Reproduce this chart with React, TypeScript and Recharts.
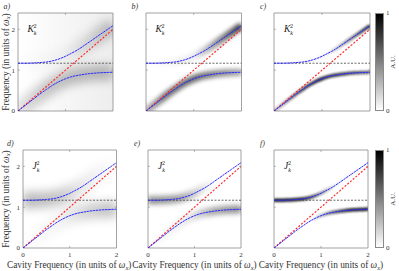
import React from "react";
import { LineChart, Line, XAxis, YAxis, ReferenceLine, ReferenceArea } from "recharts";

// cavity frequency (units of w_x) and the two polariton branches
const cavity = [0, 0.1, 0.2, 0.3, 0.4, 0.5, 0.6, 0.7, 0.8, 0.9, 1.0, 1.1, 1.2, 1.3, 1.4, 1.5, 1.6, 1.7, 1.8, 1.9, 2.0];
const lowerBranch = [0, 0.09, 0.18, 0.27, 0.36, 0.45, 0.53, 0.61, 0.68, 0.74, 0.79, 0.83, 0.86, 0.88, 0.9, 0.915, 0.925, 0.935, 0.94, 0.945, 0.95];
const upperBranch = [1.17, 1.17, 1.17, 1.175, 1.18, 1.19, 1.2, 1.22, 1.25, 1.29, 1.34, 1.4, 1.46, 1.53, 1.61, 1.69, 1.77, 1.85, 1.93, 2.01, 2.09];
const excitonLevel = 1.17;
const xTicks = [0, 1, 2];
const yTicks = [0, 1, 2];
const yMax = 2.4;

const data = cavity.map((c, i) => ({ c, lower: lowerBranch[i], upper: upperBranch[i], photon: c }));

const ML = 14, MR = 3, MT = 3, MB = 12;
const FONT = "'Liberation Serif', 'DejaVu Serif', serif";

type Stops = [number, number][];
type Panel = {
  id: string; letter: string; sym: string;
  x0: number; x1: number; y0: number; y1: number;
  showY: boolean; showX: boolean;
  w: number; blur: number; lower: Stops; upper: Stops; bg?: number;
};

const panels: Panel[] = [
  { id: "a", letter: "a)", sym: "K", x0: 17.5, x1: 112.5, y0: 13, y1: 111, showY: true, showX: false, w: 16, blur: 5,
    lower: [[0, 0.12], [0.3, 0.22], [0.6, 0.25], [1, 0.25]], upper: [[0, 0], [0.5, 0.04], [0.8, 0.16], [1, 0.25]], bg: 0.07 },
  { id: "b", letter: "b)", sym: "K", x0: 145.5, x1: 241, y0: 13, y1: 111, showY: false, showX: false, w: 7, blur: 2.2,
    lower: [[0, 0.3], [0.2, 0.55], [0.5, 0.6], [0.8, 0.45], [1, 0.35]], upper: [[0, 0], [0.5, 0.08], [0.75, 0.45], [1, 0.8]] },
  { id: "c", letter: "c)", sym: "K", x0: 274, x1: 370, y0: 13, y1: 111, showY: false, showX: false, w: 3.5, blur: 0.9,
    lower: [[0, 0.2], [0.25, 0.6], [0.45, 0.85], [0.75, 0.7], [1, 0.55]], upper: [[0, 0], [0.55, 0.05], [0.8, 0.45], [1, 0.8]] },
  { id: "d", letter: "d)", sym: "J", x0: 22.5, x1: 116, y0: 150, y1: 248, showY: true, showX: true, w: 16, blur: 5,
    lower: [[0, 0], [0.4, 0.05], [0.7, 0.18], [1, 0.25]], upper: [[0, 0.28], [0.4, 0.22], [0.6, 0.1], [1, 0]] },
  { id: "e", letter: "e)", sym: "J", x0: 148, x1: 241, y0: 150, y1: 248, showY: false, showX: true, w: 8, blur: 2.4,
    lower: [[0, 0], [0.45, 0.1], [0.7, 0.35], [1, 0.45]], upper: [[0, 0.45], [0.35, 0.38], [0.55, 0.15], [0.7, 0]] },
  { id: "f", letter: "f)", sym: "J", x0: 274, x1: 368, y0: 150, y1: 248, showY: false, showX: true, w: 3.5, blur: 0.8,
    lower: [[0, 0], [0.4, 0], [0.6, 0.5], [0.8, 0.85], [1, 0.9]], upper: [[0, 0.9], [0.3, 0.85], [0.5, 0.4], [0.65, 0.05], [1, 0]] },
];

const tickStyle = { fontSize: 7, fill: "#333", fontFamily: FONT };

function Grad({ id, stops, x1, x2 }: { id: string; stops: Stops; x1: number; x2: number }) {
  return (
    <linearGradient id={id} gradientUnits="userSpaceOnUse" x1={x1} x2={x2} y1={0} y2={0}>
      {stops.map(([o, a], i) => <stop key={i} offset={o} stopColor="#000" stopOpacity={a} />)}
    </linearGradient>
  );
}

function PanelChart({ p }: { p: Panel }) {
  const pw = p.x1 - p.x0, ph = p.y1 - p.y0;
  const W = pw + ML + MR, H = ph + MT + MB;
  return (
    <div style={{ position: "absolute", left: p.x0 - ML, top: p.y0 - MT }}>
      <LineChart width={W} height={H} data={data} margin={{ top: MT, right: MR, bottom: 0, left: 0 }}>
        <defs>
          <Grad id={`lo-${p.id}`} stops={p.lower} x1={ML} x2={ML + pw} />
          <Grad id={`up-${p.id}`} stops={p.upper} x1={ML} x2={ML + pw} />
          <linearGradient id={`bg-${p.id}`} x1="0" x2="1" y1="0" y2="0">
            <stop offset={0} stopColor="#000" stopOpacity={0} />
            <stop offset={1} stopColor="#000" stopOpacity={p.bg ?? 0} />
          </linearGradient>
          <filter id={`blur-${p.id}`} filterUnits="userSpaceOnUse" x={0} y={0} width={W} height={H}>
            <feGaussianBlur stdDeviation={p.blur} />
          </filter>
        </defs>
        <XAxis dataKey="c" type="number" domain={[0, 2]} ticks={xTicks} allowDataOverflow height={MB}
          axisLine={false} tickLine={false} tickSize={3} tickMargin={1} tick={p.showX ? tickStyle : false} />
        <YAxis type="number" domain={[0, yMax]} ticks={yTicks} allowDataOverflow width={ML}
          axisLine={false} tickLine={false} tickSize={2} tickMargin={1} tick={p.showY ? tickStyle : false} />
        {p.bg ? <ReferenceArea x1={0} x2={2} y1={0} y2={yMax} fill={`url(#bg-${p.id})`} fillOpacity={1} stroke="none" /> : null}
        <Line dataKey="lower" type="monotone" stroke={`url(#lo-${p.id})`} strokeWidth={p.w} dot={false}
          filter={`url(#blur-${p.id})`} isAnimationActive={false} />
        <Line dataKey="upper" type="monotone" stroke={`url(#up-${p.id})`} strokeWidth={p.w} dot={false}
          filter={`url(#blur-${p.id})`} isAnimationActive={false} />
        <ReferenceLine y={excitonLevel} stroke="#444" strokeWidth={0.8} strokeDasharray="2 1.5" />
        <Line dataKey="photon" type="linear" stroke="#ff2a2a" strokeWidth={1.2} strokeDasharray="2 1.6" dot={false} isAnimationActive={false} />
        <Line dataKey="lower" type="monotone" stroke="#2b2bff" strokeWidth={1} strokeDasharray="2.5 0.6" dot={false} isAnimationActive={false} />
        <Line dataKey="upper" type="monotone" stroke="#2b2bff" strokeWidth={1} strokeDasharray="2.5 0.6" dot={false} isAnimationActive={false} />
        {xTicks.slice(1, 2).map((t) => (
          <ReferenceLine key={`xb${t}`} segment={[{ x: t, y: 0 }, { x: t, y: 0.05 }]} stroke="#888" strokeWidth={0.6} />
        ))}
        {xTicks.slice(1, 2).map((t) => (
          <ReferenceLine key={`xt${t}`} segment={[{ x: t, y: yMax }, { x: t, y: yMax - 0.05 }]} stroke="#888" strokeWidth={0.6} />
        ))}
        {yTicks.slice(1).map((t) => (
          <ReferenceLine key={`yl${t}`} segment={[{ x: 0, y: t }, { x: 0.04, y: t }]} stroke="#888" strokeWidth={0.6} />
        ))}
        {yTicks.slice(1).map((t) => (
          <ReferenceLine key={`yr${t}`} segment={[{ x: 2, y: t }, { x: 1.96, y: t }]} stroke="#888" strokeWidth={0.6} />
        ))}
        <ReferenceArea x1={0} x2={2} y1={0} y2={yMax} fill="none" stroke="#8a8a8a" strokeWidth={0.8} />
      </LineChart>
    </div>
  );
}

function AxisLabel({ text, x, y, rotate }: { text: string; x: number; y: number; rotate?: boolean }) {
  return (
    <text x={x} y={y} textAnchor="middle" fontSize={9.3} fontFamily={FONT} fill="#333"
      transform={rotate ? `rotate(-90 ${x} ${y})` : undefined}>
      {text}
      <tspan fontStyle="italic">ω</tspan>
      <tspan fontStyle="italic" fontSize={6.5} dy={1.5}>x</tspan>
      <tspan dy={-1.5}>)</tspan>
    </text>
  );
}

function Sym({ s, x, y }: { s: string; x: number; y: number }) {
  return (
    <text x={x} y={y} fontFamily={FONT} fill="#222">
      <tspan fontSize={9.5} fontStyle="italic">{s}</tspan>
      <tspan fontSize={6} fontStyle="italic" dy={2.5}>k</tspan>
      <tspan fontSize={6} dx={-3} dy={-7}>2</tspan>
    </text>
  );
}

function Colorbar({ top }: { top: number }) {
  return (
    <div style={{ position: "absolute", left: 374.5, top, width: 9.5, height: 98,
      background: "linear-gradient(to bottom, #000, #fff)", border: "0.8px solid #8a8a8a", boxSizing: "border-box" }} />
  );
}

export default function App() {
  return (
    <div style={{ position: "absolute", left: 0, top: 0, width: 399, height: 271, background: "#fff", overflow: "hidden" }}>
      {panels.map((p) => <PanelChart key={p.id} p={p} />)}
      <Colorbar top={13} />
      <Colorbar top={150} />
      <svg width={399} height={271} style={{ position: "absolute", left: 0, top: 0, pointerEvents: "none" }}>
        {panels.map((p) => (
          <text key={`l${p.id}`} x={p.id === "d" ? 7 : p.x0 - 14} y={p.y0 - 4} fontSize={8} fontStyle="italic" fontFamily={FONT} fill="#333">
            {p.letter}
          </text>
        ))}
        {panels.map((p) => <Sym key={`s${p.id}`} s={p.sym} x={p.x0 + 10} y={p.y0 + 19} />)}
        <AxisLabel text="Frequency (in units of " x={8.5} y={62} rotate />
        <AxisLabel text="Frequency (in units of " x={8.5} y={199} rotate />
        {panels.filter((p) => p.showX).map((p) => (
          <AxisLabel key={`x${p.id}`} text="Cavity Frequency (in units of " x={(p.x0 + p.x1) / 2} y={268} />
        ))}
        {[13, 150].map((t) => (
          <g key={`cb${t}`} fontFamily={FONT} fontSize={7} fill="#333">
            <text x={386} y={t + 2}>1</text>
            <text x={386} y={t + 100}>0</text>
            <text x={395} y={t + 49} textAnchor="middle" transform={`rotate(-90 395 ${t + 49})`}>A.U.</text>
          </g>
        ))}
      </svg>
    </div>
  );
}
